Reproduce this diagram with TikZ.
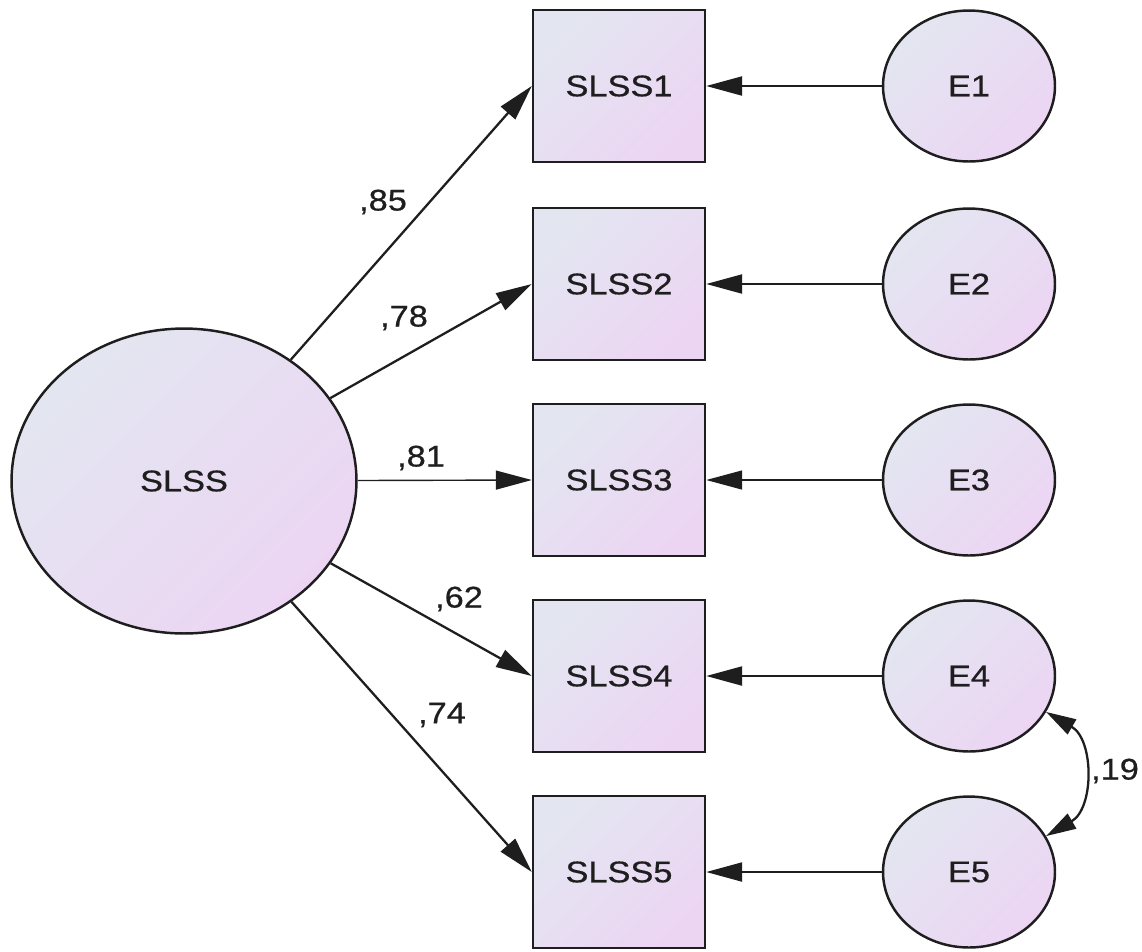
\documentclass[tikz,border=0pt]{standalone}
\usepackage{fontspec}
\setmainfont{Liberation Sans}[FakeStretch=1.15, FakeBold=0.6]
\usetikzlibrary{arrows.meta,shapes.geometric}
\definecolor{fillblue}{HTML}{E3E6F1}
\definecolor{fillpink}{HTML}{ECD5F3}
\definecolor{inkgray}{HTML}{1E1E1E}

\begin{document}
\begin{tikzpicture}
[
    x=0.02cm, y=-0.02cm,
    shaded/.style={draw=inkgray, line width=1.4pt, top color=fillblue, bottom color=fillpink, shading angle=45, text=inkgray, font=\fontsize{17}{20}\selectfont},
    latent/.style={shaded, ellipse, minimum width=6.9cm, minimum height=6.1cm, inner sep=0pt},
    observed/.style={shaded, rectangle, minimum width=3.44cm, minimum height=3.04cm},
    error/.style={shaded, ellipse, minimum width=3.44cm, minimum height=3.02cm, inner sep=0pt},
    loading/.style={draw=inkgray, line width=#1, -{Triangle[length=0.72cm, width=0.38cm]}},
    weight/.style={text=inkgray, font=\fontsize{17}{20}\selectfont},
]
\useasboundingbox (0,0) rectangle (1142,951);

% latent factor
\node[latent] (SLSS) at (184,481) {SLSS};

% items and their errors
\foreach \i/\y in {1/86, 2/284, 3/480, 4/676, 5/872}
{
    \node[observed] (SLSS\i) at (619,\y) {SLSS\i};
    \node[error] (E\i) at (969,\y) {E\i};
}

% loadings and error paths
\foreach \i/\w in {1/1.3pt, 2/1.3pt, 3/0.8pt, 4/1.3pt, 5/1.3pt}
{
    \draw[loading=\w] (SLSS) -- (SLSS\i.west);
    \draw[loading=\w] (E\i) -- (SLSS\i.east);
}

% covariance
\draw[draw=inkgray, line width=1.3pt, {Triangle[length=0.6cm, width=0.34cm]}-{Triangle[length=0.6cm, width=0.34cm]}]
    (E4.-25) to[bend left=60, looseness=1.15] (E5.25);

% estimates
\node[weight] (w1) at (383,202) {,85};
\node[weight] (w2) at (404,318) {,78};
\node[weight] (w3) at (421,458) {,81};
\node[weight] (w4) at (459,599) {,62};
\node[weight] (w5) at (442,715) {,74};
\node[weight] (w45) at (1115,771) {,19};
\end{tikzpicture}
\end{document}
